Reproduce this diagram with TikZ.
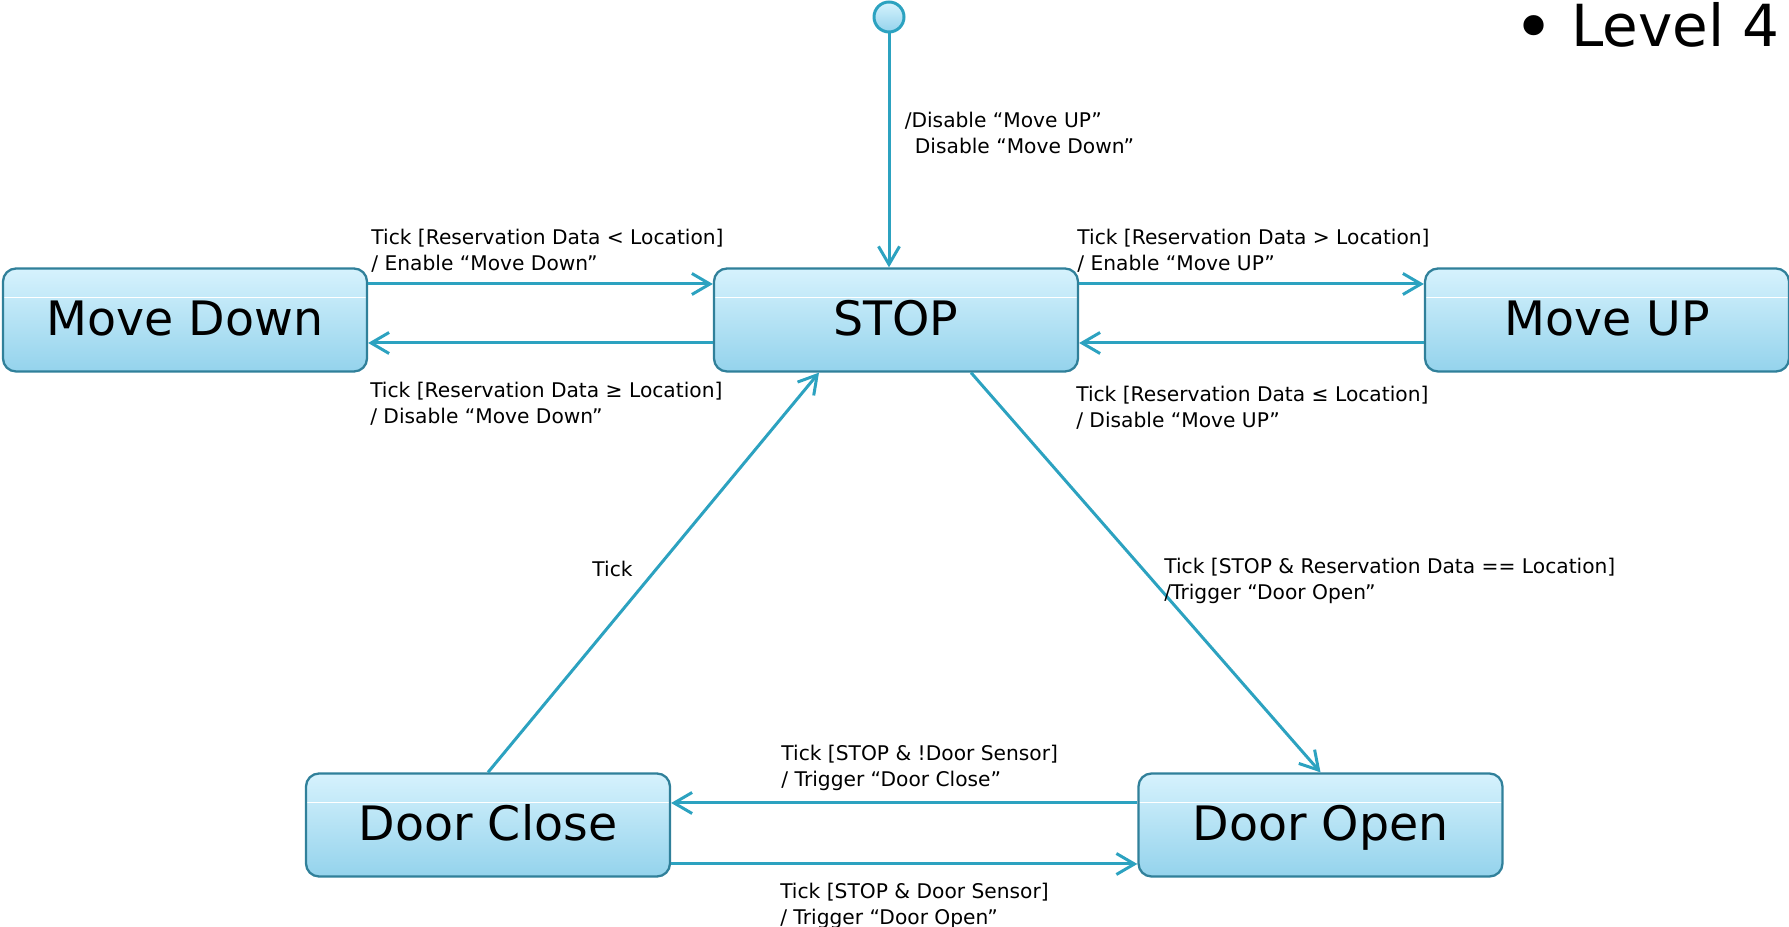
\documentclass[tikz,border=0pt]{standalone}
\usepackage{fontspec}
\setmainfont{DejaVu Sans}
\usetikzlibrary{arrows, arrows.meta}
\usepackage{amsmath,amssymb}
\usepackage{xcolor}

\definecolor{umlline}{RGB}{44,162,192}
\definecolor{umlborder}{RGB}{48,128,154}
\definecolor{umltop}{RGB}{214,242,253}
\definecolor{umlbottom}{RGB}{148,211,236}

\tikzset{
  statebox/.style={draw=umlborder, line width=1.3pt, rounded corners=0.26cm,
    top color=umltop, bottom color=umlbottom,
    path picture={\draw[white, line width=0.5pt]
      ([yshift=-0.58cm]path picture bounding box.north west) --
      ([yshift=-0.58cm]path picture bounding box.north east);},
    minimum width=7.28cm, minimum height=2.06cm, text height=0.7cm, text depth=0.08cm,
    font=\fontsize{27}{32}\selectfont},
  trans/.style={draw=umlline, line width=1.7pt, -{Straight Barb[length=0.36cm,width=0.42cm]}},
  guard/.style={font=\fontsize{11.5}{14.8}\selectfont, align=left, inner sep=1pt},
}

\begin{document}
\begin{tikzpicture}
  \useasboundingbox (0,0) rectangle (35.78,18.54);

  % Draw the states
  \node[statebox](stop) at (17.92,12.14){STOP};
  \node[statebox](down) at ([xshift=-14.22cm]stop){Move Down};
  \node[statebox](up) at ([xshift=14.22cm]stop){Move UP};
  \node[statebox](close) at (9.76,2.04){Door Close};
  \node[statebox](open) at (26.41,2.04){Door Open};

  % Initial pseudo state
  \node[circle, draw=umlline, line width=1.7pt, top color=umltop, bottom color=umlbottom,
    minimum size=0.6cm, inner sep=0pt](init) at (17.78,18.2){};
  \draw[trans] (init) -- (init |- stop.north)
    node[guard, pos=.43, right, xshift=0.25cm](initlbl){/Disable “Move UP”\\\phantom{/}\,Disable “Move Down”};

  % Move Down <-> STOP
  \draw[trans] ([yshift=0.72cm]down.east) -- ([yshift=0.72cm]stop.west)
    node[guard, pos=0, above right, yshift=0.16cm](downin){Tick [Reservation Data < Location]\\/ Enable “Move Down”};
  \draw[trans] ([yshift=-0.46cm]stop.west) -- ([yshift=-0.46cm]down.east);
  \node[guard, anchor=north west] (downout) at ([yshift=-0.14cm]down.south east)
    {Tick [Reservation Data ≥ Location]\\/ Disable “Move Down”};

  % STOP <-> Move UP
  \draw[trans] ([yshift=0.72cm]stop.east) -- ([yshift=0.72cm]up.west)
    node[guard, pos=0, above right, xshift=-0.1cm, yshift=0.16cm](upin){Tick [Reservation Data > Location]\\/ Enable “Move UP”};
  \draw[trans] ([yshift=-0.46cm]up.west) -- ([yshift=-0.46cm]stop.east);
  \node[guard, anchor=north west] (upout) at ([xshift=-0.1cm, yshift=-0.22cm]stop.south east)
    {Tick [Reservation Data ≤ Location]\\/ Disable “Move UP”};

  % STOP -> Door Open -> Door Close -> STOP
  \draw[trans] ([xshift=1.5cm]stop.south) -- (open.north)
    node[guard, pos=.521, right, xshift=0.16cm](openin){Tick [STOP \& Reservation Data == Location]\\/Trigger “Door Open”};
  \draw[trans] ([yshift=0.44cm]open.west) -- ([yshift=0.44cm]close.east)
    node[guard, pos=1, above right, xshift=2.14cm, yshift=0.18cm](closein){Tick [STOP \& !Door Sensor]\\/ Trigger “Door Close”};
  \draw[trans] ([yshift=-0.78cm]close.east) -- ([yshift=-0.78cm]open.west);
  \node[guard, anchor=north west] (openout) at ([xshift=2.14cm, yshift=-0.06cm]close.south east)
    {Tick [STOP \& Door Sensor]\\/ Trigger “Door Open”};
  \draw[trans] (close.north) -- ([xshift=-1.54cm]stop.south)
    node[guard, pos=.51, left, xshift=-0.42cm](ticklbl){Tick};

  % Leftover slide bullet
  \node[font=\fontsize{33}{40}\selectfont, anchor=base east, inner sep=0pt](level) at (35.6,17.6){\raisebox{-0.08em}{\scalebox{1.2}{•}}\hspace{0.28em}Level 4};
\end{tikzpicture}
\end{document}
